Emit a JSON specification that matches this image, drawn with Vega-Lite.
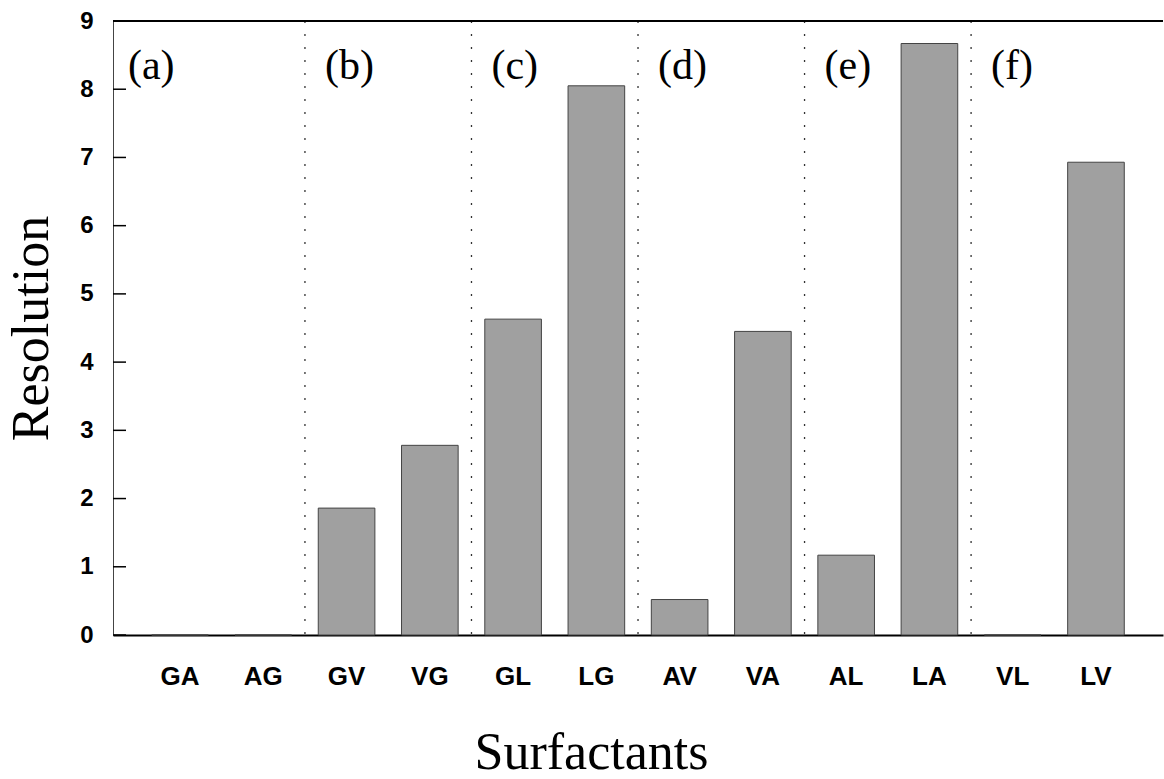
{
  "$schema": "https://vega.github.io/schema/vega-lite/v6.json",
  "autosize": {"type": "none"},
  "padding": {"left": 113, "top": 21, "right": 1, "bottom": 144},
  "width": 1050,
  "height": 614,
  "background": "white",
  "config": {"view": {"stroke": null}},
  "datasets": {
    "bars": [
      {"surfactant": "GA", "resolution": 0},
      {"surfactant": "AG", "resolution": 0},
      {"surfactant": "GV", "resolution": 1.86},
      {"surfactant": "VG", "resolution": 2.78},
      {"surfactant": "GL", "resolution": 4.63},
      {"surfactant": "LG", "resolution": 8.05},
      {"surfactant": "AV", "resolution": 0.52},
      {"surfactant": "VA", "resolution": 4.45},
      {"surfactant": "AL", "resolution": 1.17},
      {"surfactant": "LA", "resolution": 8.67},
      {"surfactant": "VL", "resolution": 0},
      {"surfactant": "LV", "resolution": 6.93}
    ],
    "groups": [
      {"start": "GV", "label": "(b)"},
      {"start": "GL", "label": "(c)"},
      {"start": "AV", "label": "(d)"},
      {"start": "AL", "label": "(e)"},
      {"start": "VL", "label": "(f)"}
    ],
    "first": [
      {"start": "GA", "label": "(a)"}
    ],
    "yticks": [
      {"v": 0}, {"v": 1}, {"v": 2}, {"v": 3}, {"v": 4},
      {"v": 5}, {"v": 6}, {"v": 7}, {"v": 8}, {"v": 9}
    ]
  },
  "layer": [
    {
      "data": {"name": "bars"},
      "mark": {"type": "bar", "fill": "#a0a0a0", "stroke": "#444", "strokeWidth": 1},
      "encoding": {
        "x": {
          "field": "surfactant",
          "type": "nominal",
          "sort": null,
          "scale": {"paddingInner": 0.32, "paddingOuter": 0.465},
          "axis": {
            "title": "Surfactants",
            "labelAngle": 0,
            "ticks": false,
            "tickSize": 0,
            "labelPadding": 28,
            "labelFont": "Liberation Sans",
            "labelFontWeight": "bold",
            "labelFontSize": 26,
            "labelColor": "black",
            "domainColor": "black",
            "domainWidth": 2,
            "titleFont": "Liberation Serif",
            "titleFontWeight": "normal",
            "titleFontSize": 52,
            "titleColor": "black",
            "titlePadding": 38,
            "titleX": 478,
            "titleAlign": "center"
          }
        },
        "y": {
          "field": "resolution",
          "type": "quantitative",
          "scale": {"domain": [0, 9], "nice": false},
          "axis": {
            "title": "Resolution",
            "values": [0, 1, 2, 3, 4, 5, 6, 7, 8, 9],
            "format": "d",
            "grid": false,
            "ticks": false,
            "tickSize": 0,
            "labelPadding": 20,
            "labelFont": "Liberation Sans",
            "labelFontWeight": "bold",
            "labelFontSize": 24,
            "labelColor": "black",
            "domainColor": "#444",
            "titleFont": "Liberation Serif",
            "titleFontWeight": "normal",
            "titleFontSize": 52,
            "titleColor": "black",
            "titlePadding": 21
          }
        }
      }
    },
    {
      "data": {"name": "yticks"},
      "mark": {"type": "rule", "color": "black", "strokeWidth": 1.5},
      "encoding": {
        "y": {"field": "v", "type": "quantitative"},
        "x": {"datum": "GA", "type": "nominal", "bandPosition": -0.684},
        "x2": {"datum": "GA", "bandPosition": -0.454}
      }
    },
    {
      "data": {"name": "groups"},
      "mark": {"type": "rule", "color": "#333", "strokeWidth": 1.3, "strokeDash": [2, 11]},
      "encoding": {
        "x": {"field": "start", "type": "nominal", "sort": null, "bandPosition": -0.235}
      }
    },
    {
      "data": {"name": "groups"},
      "mark": {"type": "text", "font": "Liberation Serif", "fontSize": 42, "align": "left", "baseline": "alphabetic", "color": "black"},
      "encoding": {
        "x": {"field": "start", "type": "nominal", "sort": null, "bandPosition": 0.118},
        "y": {"datum": 8.15, "type": "quantitative"},
        "text": {"field": "label"}
      }
    },
    {
      "data": {"name": "first"},
      "mark": {"type": "text", "font": "Liberation Serif", "fontSize": 42, "align": "left", "baseline": "alphabetic", "color": "black"},
      "encoding": {
        "x": {"field": "start", "type": "nominal", "sort": null, "bandPosition": -0.42},
        "y": {"datum": 8.15, "type": "quantitative"},
        "text": {"field": "label"}
      }
    },
    {
      "data": {"values": [{"top": 9}]},
      "mark": {"type": "rule", "color": "black", "strokeWidth": 2},
      "encoding": {
        "y": {"field": "top", "type": "quantitative"}
      }
    }
  ]
}
